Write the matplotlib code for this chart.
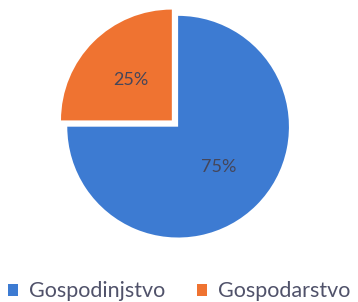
import matplotlib.pyplot as plt

labels = ['Gospodinjstvo', 'Gospodarstvo']
values = [75, 25]
colors = ['#3d7bd2', '#ef7331']

plt.rcParams['font.family'] = ['Lato', 'DejaVu Sans']

fig = plt.figure(figsize=(3.58, 3.02), dpi=100)
ax = fig.add_axes([0.126, 0.14, 0.743, 0.881])

wedges, texts, autotexts = ax.pie(values, colors=colors, startangle=90, counterclock=False,
                                  explode=[0, 0.08], autopct='%1.0f%%', pctdistance=0.52,
                                  textprops=dict(color='#45465a', fontsize=13))
ax.set_xlim(-1.2, 1.2)
ax.set_ylim(-1.2, 1.2)
ax.set_aspect('equal')

fig.legend(wedges, labels, loc='center', bbox_to_anchor=(0.5, 0.035), ncol=2, frameon=False,
           handlelength=0.45, handleheight=0.45, handletextpad=0.5, columnspacing=1.5,
           labelcolor='#50526a', fontsize=15.5)

plt.savefig('out.png')
